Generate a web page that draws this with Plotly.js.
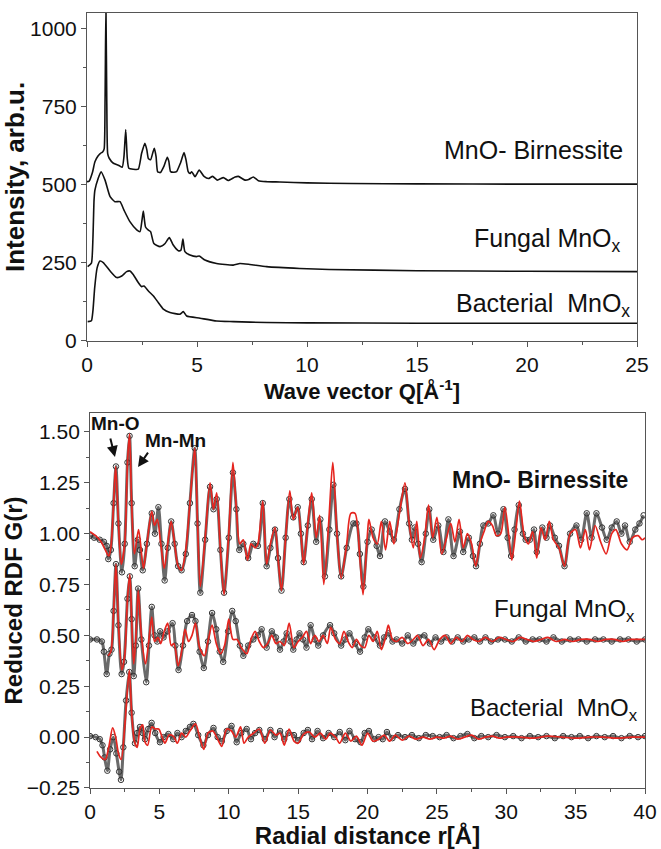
<!DOCTYPE html>
<html>
<head>
<meta charset="utf-8">
<script src="https://cdn.plot.ly/plotly-3.0.1.min.js"></script>
<style>html,body{margin:0;padding:0;background:#fff;}#chart{width:661px;height:849px;}</style>
</head>
<body>
<div id="chart"></div>
<script>
// ---------- Top panel: intensity vs wave vector Q ----------
const qBirnessite = [0.00,0.10,0.25,0.36,0.50,0.60,0.71,0.78,0.82,0.86,0.90,0.94,1.01,1.20,1.45,1.60,1.68,1.76,1.83,1.90,2.10,2.33,2.48,2.63,2.72,2.79,2.89,3.00,3.06,3.14,3.21,3.33,3.50,3.65,3.72,3.80,3.95,4.07,4.25,4.41,4.50,4.60,4.68,4.76,4.91,5.10,5.32,5.52,5.71,5.92,6.20,6.42,6.73,6.88,7.18,7.35,7.56,7.79,8.17,8.77,10,12,15,20,25];
const iBirnessite = [510,512,540,574,592,600,605,615,760,1075,760,600,585,569,562,556,590,677,585,553,550,550,600,633,612,584,580,605,617,590,542,539,560,588,575,542,540,542,570,603,580,542,536,542,526,547,527,520,527,515,523,514,525,527,515,517,525,513,510,509,506,504,503,502,502];

const qFungal = [0.03,0.20,0.27,0.32,0.36,0.51,0.64,0.82,1.05,1.27,1.50,1.68,1.95,2.26,2.41,2.50,2.56,2.66,2.79,2.89,3.04,3.32,3.55,3.74,3.92,4.15,4.27,4.36,4.45,4.68,4.98,5.10,5.36,5.89,6.65,6.95,7.40,8.16,9.67,11,15,20,25];
const iFungal = [238,249,330,451,483,521,542,515,462,446,446,419,382,356,350,387,416,365,355,350,312,302,312,331,307,289,291,326,286,275,270,272,259,248,243,248,245,238,232,229,225,223,222];

const qBacterial = [0.03,0.20,0.27,0.35,0.46,0.59,0.74,1.05,1.35,1.58,1.80,1.95,2.10,2.33,2.48,2.59,2.79,3.02,3.24,3.47,3.77,4.23,4.38,4.53,5.14,5.89,6.65,8.16,10,15,20,25];
const iBacterial = [62,65,97,171,234,256,251,224,203,208,222,224,213,187,174,176,160,144,123,102,91,86,94,80,73,64,62,59,58,57,57,57];

// ---------- Bottom panel: reduced RDF G(r) ----------
// MnO- Birnessite: measured (circles) and fit (red)
const rBirData = [0.0,0.3,0.7,1.0,1.2,1.32,1.5,1.7,1.87,2.05,2.3,2.5,2.7,2.85,3.0,3.22,3.45,3.6,3.8,4.1,4.45,4.68,4.93,5.15,5.38,5.6,5.85,6.1,6.35,6.6,6.9,7.2,7.55,7.75,7.95,8.3,8.65,8.9,9.13,9.4,9.66,10.0,10.3,10.55,10.76,11.05,11.4,11.77,12.1,12.45,12.73,13.0,13.33,13.55,13.8,14.1,14.37,14.65,14.97,15.2,15.4,15.7,15.98,16.3,16.6,16.93,17.25,17.54,17.8,18.1,18.5,18.98,19.2,19.45,19.7,20.0,20.3,20.66,20.9,21.26,21.6,21.9,22.3,22.7,23.0,23.2,23.4,23.65,23.9,24.2,24.45,24.74,25.1,25.47,25.83,26.2,26.66,26.9,27.3,27.6,27.82,28.1,28.35,28.7,29.07,29.4,29.8,30.1,30.35,30.6,30.9,31.2,31.4,31.7,32.0,32.2,32.6,32.9,33.15,33.5,33.8,34.2,34.6,35.06,35.4,35.8,36.15,36.5,36.9,37.24,37.6,37.96,38.3,38.56,38.9,39.3,39.6,39.9];
const gBirData = [0.99,0.98,0.97,0.96,0.94,0.875,0.92,1.15,1.33,1.05,0.81,0.95,1.35,1.48,1.15,0.84,0.97,0.92,0.82,0.95,1.10,1.00,1.13,0.95,0.77,0.93,1.06,0.95,0.84,0.82,0.90,1.15,1.42,1.05,0.71,0.97,1.23,1.12,1.17,0.92,0.71,0.98,1.30,1.12,0.92,0.95,0.88,0.95,0.94,1.15,0.84,0.93,1.02,0.88,0.72,0.98,1.17,1.08,1.13,1.00,0.86,1.04,1.17,0.96,1.07,0.79,1.02,1.24,1.00,0.79,0.93,1.05,1.05,0.90,0.74,0.96,1.02,0.94,0.89,1.06,1.01,0.97,1.12,1.22,1.05,0.97,1.03,0.95,0.86,1.00,1.12,0.97,1.04,0.91,1.07,0.89,1.01,0.91,0.98,0.89,0.84,0.95,1.04,1.05,1.09,1.00,1.12,0.98,0.89,1.02,1.14,1.00,0.97,0.97,1.02,0.91,1.03,0.98,1.04,0.98,0.94,0.84,1.00,1.04,0.97,1.10,0.98,1.10,1.03,0.97,1.03,1.06,1.00,1.04,0.96,1.02,1.05,1.09];
const rBirFit = [0.0,0.4,0.8,1.1,1.35,1.5,1.7,1.85,2.05,2.25,2.5,2.7,2.85,3.0,3.2,3.5,3.85,4.1,4.45,4.65,4.85,5.1,5.35,5.6,5.85,6.1,6.35,6.6,6.9,7.2,7.55,7.75,7.95,8.3,8.65,8.9,9.13,9.4,9.66,10.0,10.3,10.55,10.8,11.05,11.35,11.6,11.9,12.1,12.45,12.73,13.0,13.33,13.55,13.8,14.1,14.4,14.65,14.97,15.2,15.4,15.7,15.98,16.3,16.55,16.85,17.2,17.5,17.8,18.1,18.5,18.8,19.1,19.45,19.68,20.0,20.1,20.4,20.7,21.0,21.3,21.6,21.9,22.3,22.7,23.0,23.3,23.55,23.8,24.1,24.4,24.7,25.0,25.35,25.7,26.0,26.3,26.6,26.9,27.2,27.5,27.8,28.1,28.4,28.7,29.0,29.3,29.6,29.9,30.2,30.4,30.7,30.95,31.3,31.6,31.9,32.2,32.5,32.8,33.1,33.4,33.8,34.2,34.6,35.0,35.35,35.7,36.0,36.4,36.8,37.2,37.6,37.9,38.3,38.7,39.1,39.5,39.8,40.0];
const gBirFit = [1.01,0.99,0.96,0.92,0.89,0.93,1.15,1.33,1.05,0.85,0.95,1.35,1.49,1.15,0.90,1.02,0.83,0.95,1.11,1.04,1.07,0.95,0.83,0.95,1.06,0.95,0.84,0.82,0.92,1.15,1.42,1.05,0.74,0.98,1.25,1.12,1.20,0.92,0.70,1.00,1.35,1.12,0.95,0.97,0.87,0.95,0.93,0.95,1.16,0.85,0.95,1.03,0.88,0.72,0.98,1.21,1.07,1.13,1.00,0.85,1.05,1.20,0.98,1.09,0.75,1.05,1.35,1.00,0.78,0.95,1.10,1.10,0.88,0.70,1.00,1.07,0.98,0.95,1.06,0.92,1.06,0.95,1.10,1.25,1.05,0.93,1.06,0.88,0.97,1.14,0.98,1.08,0.90,0.98,1.05,0.96,1.07,0.93,1.00,0.95,0.84,0.95,1.01,1.06,1.04,0.99,1.00,1.13,0.98,0.87,1.02,1.16,0.99,0.95,1.01,0.88,1.03,0.97,1.06,0.97,0.93,0.84,1.00,1.02,0.93,1.02,0.92,1.04,0.96,0.90,1.00,1.02,0.95,0.92,0.98,0.99,0.97,0.98];

// Fungal MnOx
const rFunData = [0.0,0.5,0.85,1.0,1.2,1.4,1.55,1.7,1.87,2.05,2.28,2.45,2.7,2.87,3.0,3.15,3.3,3.47,3.7,4.05,4.25,4.45,4.65,4.85,5.05,5.3,5.6,5.95,6.15,6.38,6.7,7.0,7.35,7.6,7.9,8.2,8.5,8.8,9.1,9.35,9.6,9.95,10.25,10.5,10.8,11.05,11.4,11.77,12.1,12.37,12.73,13.1,13.4,13.69,13.95,14.17,14.45,14.65,14.9,15.1,15.35,15.6,15.9,16.2,16.45,16.8,17.3,17.6,18.1,18.4,18.7,19.1,19.46,19.8,20.06,20.5,20.9,21.2,21.5,21.8,22.1,22.5,22.9,23.3,23.7,24.1,24.5,24.9,25.3,25.7,26.1,26.5,26.9,27.3,27.7,28.1,28.5,28.9,29.4,29.9,30.4,30.9,31.4,31.9,32.4,32.9,33.4,34.0,34.6,35.2,35.8,36.4,37.0,37.6,38.2,38.8,39.4,40.0];
const gFunData = [0.48,0.48,0.47,0.42,0.31,0.41,0.43,0.62,0.85,0.55,0.31,0.37,0.68,0.79,0.58,0.30,0.45,0.73,0.48,0.27,0.45,0.64,0.50,0.47,0.52,0.49,0.52,0.56,0.45,0.33,0.45,0.57,0.60,0.57,0.42,0.34,0.47,0.61,0.53,0.42,0.37,0.52,0.62,0.57,0.45,0.40,0.45,0.48,0.50,0.53,0.44,0.52,0.49,0.43,0.47,0.51,0.47,0.43,0.48,0.51,0.48,0.44,0.55,0.48,0.45,0.50,0.55,0.51,0.45,0.48,0.51,0.46,0.42,0.49,0.53,0.49,0.45,0.49,0.51,0.47,0.48,0.46,0.50,0.46,0.49,0.50,0.46,0.49,0.47,0.49,0.47,0.49,0.47,0.48,0.49,0.47,0.49,0.47,0.48,0.48,0.47,0.49,0.47,0.48,0.48,0.47,0.49,0.47,0.48,0.48,0.47,0.48,0.48,0.47,0.48,0.48,0.47,0.48];
const rFunFit = [1.3,1.5,1.7,1.87,2.05,2.3,2.5,2.7,2.87,3.0,3.15,3.3,3.47,3.7,4.0,4.2,4.45,4.65,4.9,5.1,5.35,5.6,5.85,6.05,6.35,6.6,6.85,7.1,7.35,7.6,7.9,8.25,8.5,8.8,9.1,9.4,9.7,10.0,10.3,10.6,10.9,11.3,11.6,11.9,12.2,12.5,12.8,13.1,13.4,13.7,14.0,14.35,14.7,15.0,15.3,15.6,15.9,16.2,16.5,16.8,17.1,17.35,17.7,18.0,18.3,18.6,18.9,19.2,19.5,19.8,20.1,20.4,20.7,21.0,21.3,21.5,21.8,22.1,22.5,22.9,23.3,23.6,24.0,24.4,24.8,25.2,25.6,26.0,26.4,26.8,27.2,27.6,28.0,28.5,29.0,29.5,30.0,30.5,31.0,31.5,32.0,32.5,33.0,33.6,34.2,34.8,35.4,36.0,36.6,37.2,37.8,38.4,39.0,39.6,40.0];
const gFunFit = [0.40,0.42,0.62,0.85,0.55,0.33,0.40,0.68,0.80,0.58,0.36,0.48,0.72,0.50,0.36,0.45,0.59,0.47,0.49,0.46,0.52,0.56,0.45,0.46,0.35,0.42,0.53,0.47,0.50,0.56,0.44,0.40,0.47,0.55,0.46,0.41,0.45,0.58,0.48,0.48,0.44,0.41,0.48,0.52,0.47,0.44,0.46,0.50,0.46,0.47,0.45,0.56,0.44,0.47,0.49,0.52,0.46,0.50,0.47,0.50,0.46,0.54,0.48,0.46,0.52,0.47,0.44,0.48,0.45,0.44,0.50,0.47,0.52,0.43,0.49,0.55,0.48,0.47,0.49,0.46,0.48,0.50,0.45,0.48,0.43,0.48,0.50,0.46,0.49,0.47,0.50,0.48,0.47,0.49,0.47,0.49,0.48,0.47,0.49,0.48,0.47,0.48,0.49,0.47,0.48,0.47,0.48,0.48,0.47,0.48,0.48,0.47,0.48,0.48,0.48];

// Bacterial MnOx
const rBacData = [0.0,0.4,0.7,0.9,1.05,1.25,1.45,1.68,1.9,2.1,2.23,2.4,2.6,2.83,3.0,3.24,3.4,3.6,3.8,3.96,4.2,4.44,4.7,5.04,5.3,5.65,6.0,6.3,6.6,6.9,7.2,7.45,7.8,8.17,8.5,8.9,9.2,9.5,9.85,10.2,10.57,10.9,11.29,11.6,11.9,12.2,12.6,13.0,13.3,13.7,14.0,14.3,14.7,15.0,15.4,15.7,16.0,16.4,16.8,17.2,17.6,18.0,18.4,18.7,19.1,19.5,19.8,20.1,20.5,20.8,21.1,21.4,21.8,22.2,22.7,23.2,23.7,24.2,24.7,25.2,25.7,26.2,26.7,27.2,27.7,28.2,28.7,29.3,29.9,30.5,31.1,31.7,32.3,32.9,33.5,34.1,34.7,35.3,35.9,36.5,37.1,37.7,38.3,38.9,39.5,40.0];
const gBacData = [0.005,0.0,-0.01,-0.04,-0.10,-0.165,-0.06,0.0,-0.08,-0.17,-0.21,-0.05,0.18,0.32,0.12,-0.03,0.02,0.05,0.02,-0.01,0.04,0.07,0.02,-0.025,0.0,0.015,-0.01,0.02,0.0,0.03,0.05,0.065,0.01,-0.04,0.01,0.045,0.0,-0.02,0.03,0.055,-0.025,0.02,0.04,-0.01,0.02,0.035,-0.01,0.035,0.0,0.03,-0.01,0.02,0.01,-0.015,0.02,0.035,-0.01,0.03,-0.005,0.02,0.0,0.025,-0.015,0.03,-0.01,-0.025,0.02,0.03,-0.01,0.0,-0.01,0.025,-0.005,0.01,0.0,0.01,-0.005,0.01,0.005,0.0,0.01,-0.005,0.005,0.015,-0.005,0.005,0.0,0.01,0.0,0.005,-0.005,0.005,0.0,0.005,-0.005,0.005,0.0,0.005,-0.005,0.005,0.0,0.005,-0.005,0.005,0.0,0.005];
const rBacFit = [0.5,0.8,1.1,1.35,1.63,1.85,2.05,2.25,2.5,2.83,3.0,3.2,3.4,3.6,3.8,3.95,4.15,4.45,4.7,4.95,5.2,5.4,5.7,6.0,6.3,6.6,6.9,7.2,7.6,7.9,8.2,8.5,8.85,9.2,9.5,9.85,10.2,10.5,10.85,11.1,11.4,11.8,12.2,12.6,13.0,13.4,13.7,14.0,14.35,14.7,15.0,15.4,15.8,16.2,16.6,17.0,17.3,17.7,18.0,18.4,18.8,19.2,19.6,20.0,20.4,20.8,21.2,21.6,22.0,22.5,23.0,23.5,24.0,24.5,25.0,25.5,26.0,26.5,27.0,27.5,28.0,28.5,29.0,29.5,30,31,32,33,34,35,36,37,38,39,40];
const gBacFit = [-0.07,-0.10,-0.11,-0.05,0.045,0.0,-0.08,-0.11,0.05,0.33,0.12,-0.02,-0.05,0.04,0.06,-0.02,-0.04,0.05,0.04,0.04,0.0,-0.03,0.01,0.005,-0.03,0.02,0.0,0.03,0.065,0.0,-0.06,0.02,0.03,-0.01,-0.045,0.04,0.03,0.0,0.05,-0.03,0.0,0.02,0.04,-0.03,0.035,0.01,0.02,-0.04,0.04,-0.02,-0.03,0.015,0.025,0.0,0.02,-0.01,0.02,0.0,-0.03,0.02,-0.02,0.005,-0.04,0.02,-0.02,-0.01,0.01,-0.02,0.01,-0.015,0.005,-0.01,0.0,-0.01,0.0,-0.005,0.005,-0.01,0.0,0.01,-0.01,0.0,0.005,-0.005,0.0,0.0,-0.005,0.005,0.0,-0.005,0.0,0.0,-0.005,0.0,0.0];

// ---------- traces ----------
const FONT = 'Liberation Sans, Arial, sans-serif';
const topLine = {color:'#111', width:1.6, shape:'spline', smoothing:0.5};
const dataStyle = (x, y) => ({x, y, xaxis:'x2', yaxis:'y2', type:'scatter', mode:'lines+markers',
  line:{color:'#6a6a6a', width:3, shape:'spline', smoothing:0.8},
  marker:{symbol:'circle-open', size:5.5, color:'#333', line:{width:1}}, hoverinfo:'skip'});
const fitStyle = (x, y) => ({x, y, xaxis:'x2', yaxis:'y2', type:'scatter', mode:'lines',
  line:{color:'#e5251f', width:1.7, shape:'spline', smoothing:0.8}, hoverinfo:'skip'});

const traces = [
  {x:qBirnessite, y:iBirnessite, xaxis:'x', yaxis:'y', type:'scatter', mode:'lines', line:topLine},
  {x:qFungal, y:iFungal, xaxis:'x', yaxis:'y', type:'scatter', mode:'lines', line:topLine},
  {x:qBacterial, y:iBacterial, xaxis:'x', yaxis:'y', type:'scatter', mode:'lines', line:topLine},
  dataStyle(rBirData, gBirData), dataStyle(rFunData, gFunData), dataStyle(rBacData, gBacData),
  fitStyle(rBirFit, gBirFit), fitStyle(rFunFit, gFunFit), fitStyle(rBacFit, gBacFit)
];

const axCommon = {
  showline:true, linecolor:'#555', linewidth:1, mirror:true, showgrid:false, zeroline:false,
  ticks:'outside', ticklen:5, tickwidth:1, tickcolor:'#555',
  tickfont:{family:FONT, size:21, color:'#111'}
};

const layout = {
  width:661, height:849, showlegend:false,
  paper_bgcolor:'#fff', plot_bgcolor:'#fff',
  margin:{l:87, r:16, t:13, b:61},
  font:{family:FONT, color:'#111'},
  xaxis:Object.assign({}, axCommon, {domain:[0,0.9857], range:[0,25], anchor:'y', tick0:0, dtick:5,
    minor:{dtick:2.5, ticks:'outside', ticklen:3, tickcolor:'#555'},
    title:{text:'<b>Wave vector Q[Å<sup>-1</sup>]</b>', font:{family:FONT, size:22, color:'#111'}, standoff:2}}),
  yaxis:Object.assign({}, axCommon, {domain:[0.5768,1], range:[0,1050], anchor:'x', tick0:0, dtick:250,
    minor:{dtick:125, ticks:'outside', ticklen:3, tickcolor:'#555'},
    title:{text:'<b>Intensity, arb.u.</b>', font:{family:FONT, size:26, color:'#111'}, standoff:2}}),
  xaxis2:Object.assign({}, axCommon, {domain:[0.0054,1], range:[0,40], anchor:'y2', tick0:0, dtick:5,
    minor:{dtick:2.5, ticks:'outside', ticklen:3, tickcolor:'#555'},
    title:{text:'<b>Radial distance r[Å]</b>', font:{family:FONT, size:24, color:'#111'}, standoff:4}}),
  yaxis2:Object.assign({}, axCommon, {domain:[0,0.4839], range:[-0.25,1.593], anchor:'x2', tick0:0, dtick:0.25, tickformat:'.2f',
    minor:{dtick:0.125, ticks:'outside', ticklen:3, tickcolor:'#555'},
    title:{text:'<b>Reduced RDF G(r)</b>', font:{family:FONT, size:24, color:'#111'}, standoff:2}}),
  annotations:[
    {xref:'x', yref:'y', x:24.45, y:611, text:'MnO- Birnessite', showarrow:false, xanchor:'right', yanchor:'middle', font:{family:FONT, size:25, color:'#111'}},
    {xref:'x', yref:'y', x:24.36, y:322, text:'Fungal MnO<sub>x</sub>', showarrow:false, xanchor:'right', yanchor:'middle', font:{family:FONT, size:25, color:'#111'}},
    {xref:'x', yref:'y', x:24.77, y:115, text:'Bacterial \u00a0MnO<sub>x</sub>', showarrow:false, xanchor:'right', yanchor:'middle', font:{family:FONT, size:25, color:'#111'}},
    {xref:'x2', yref:'y2', x:38.92, y:1.266, text:'<b>MnO- Birnessite</b>', showarrow:false, xanchor:'right', yanchor:'middle', font:{family:FONT, size:23, color:'#111'}},
    {xref:'x2', yref:'y2', x:39.42, y:0.624, text:'Fungal MnO<sub>x</sub>', showarrow:false, xanchor:'right', yanchor:'middle', font:{family:FONT, size:24, color:'#111'}},
    {xref:'x2', yref:'y2', x:39.64, y:0.138, text:'Bacterial \u00a0MnO<sub>x</sub>', showarrow:false, xanchor:'right', yanchor:'middle', font:{family:FONT, size:24, color:'#111'}},
    {xref:'x2', yref:'y2', x:1.87, y:1.539, text:'<b>Mn-O</b>', showarrow:false, xanchor:'center', yanchor:'middle', font:{family:FONT, size:19, color:'#111'}},
    {xref:'x2', yref:'y2', x:6.13, y:1.456, text:'<b>Mn-Mn</b>', showarrow:false, xanchor:'center', yanchor:'middle', font:{family:FONT, size:19, color:'#111'}},
    {xref:'x2', yref:'y2', x:1.80, y:1.377, text:'', showarrow:true, ax:-5, ay:-20, arrowhead:2, arrowsize:1.1, arrowwidth:2, arrowcolor:'#111'},
    {xref:'x2', yref:'y2', x:3.46, y:1.327, text:'', showarrow:true, ax:11, ay:-16, arrowhead:2, arrowsize:1.1, arrowwidth:2, arrowcolor:'#111'}
  ]
};

Plotly.newPlot('chart', traces, layout, {staticPlot:true, displayModeBar:false});
</script>
</body>
</html>
